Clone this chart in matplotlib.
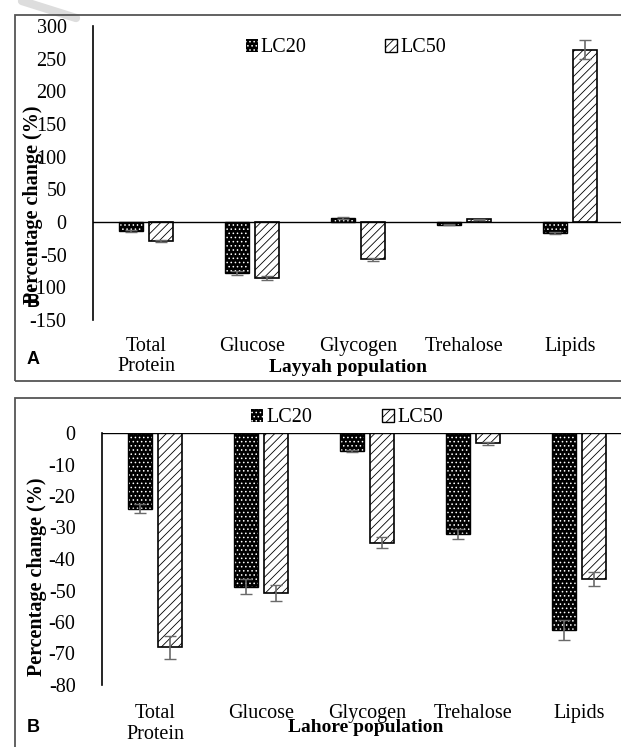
import numpy as np
import matplotlib
matplotlib.use('Agg')
import matplotlib.pyplot as plt
from matplotlib.patches import Rectangle, Patch
from matplotlib.lines import Line2D

# DATA
categories = ['Total\nProtein', 'Glucose', 'Glycogen', 'Trehalose', 'Lipids']
series = ['LC20', 'LC50']

layyah_lc20 = [-14, -78, 6, -4, -17]
layyah_lc50 = [-29, -86, -57, 4, 264]
layyah_err20 = [1.5, 3, 1, 0.8, 2]
layyah_err50 = [1.5, 3, 2, 0.8, 14]

lahore_lc20 = [-24, -48.8, -5.7, -32, -62.5]
lahore_lc50 = [-68, -50.9, -34.8, -3.3, -46.3]
lahore_err20 = [1.5, 2.4, 0.3, 1.6, 3.2]
lahore_err50 = [3.6, 2.5, 1.7, 0.4, 2.3]

# STYLE
plt.rcParams['font.family'] = ['Liberation Serif', 'DejaVu Serif']
plt.rcParams['axes.unicode_minus'] = False
plt.rcParams['hatch.linewidth'] = 0.6
W, H = 621, 747
fig = plt.figure(figsize=(W / 100, H / 100), dpi=100)

def fx(px):
    return px / W

def fy(py):
    return 1 - py / H

width = 0.23
off = 0.14
errc = '#6a6a6a'
FS = 14.5

def draw_panel(ax, v20, v50, e20, e50, ylim, yticks, pad):
    x = np.arange(len(categories))
    # LC20: black with white dots
    ax.bar(x - off, v20, width, color='black', edgecolor='white', hatch='....', linewidth=0, zorder=2)
    ax.bar(x - off, v20, width, fill=False, edgecolor='black', linewidth=1, zorder=3)
    # LC50: white with diagonal brick
    ax.bar(x + off, v50, width, color='white', edgecolor='black', hatch='////', linewidth=1.2, zorder=2)
    ax.errorbar(x - off, v20, yerr=e20, fmt='none', ecolor=errc, elinewidth=1.2, capsize=4, zorder=4)
    ax.errorbar(x + off, v50, yerr=e50, fmt='none', ecolor=errc, elinewidth=1.2, capsize=4, zorder=4)
    ax.axhline(0, color='black', linewidth=1, zorder=5)
    ax.set_xlim(-0.5, len(categories) - 0.5)
    ax.set_ylim(*ylim)
    ax.set_yticks(yticks)
    ax.tick_params(axis='y', length=0, labelsize=FS, pad=19)
    ax.set_xticks(x)
    ax.set_xticklabels(categories, fontsize=FS, linespacing=1.1, va='top')
    ax.tick_params(axis='x', length=0, pad=pad)
    for s in ['top', 'right', 'bottom']:
        ax.spines[s].set_visible(False)
    ax.spines['left'].set_linewidth(1.2)

def legend_at(cx, cy, cs):
    h20 = Patch(facecolor='black', edgecolor='white', hatch='....', linewidth=0)
    h50 = Patch(facecolor='white', edgecolor='black', hatch='////', linewidth=1)
    fig.legend([h20, h50], series, loc='center', bbox_to_anchor=(cx, cy), ncol=2,
               frameon=False, fontsize=FS, handlelength=0.6, handleheight=0.6,
               handletextpad=0.15, columnspacing=cs)

# PANEL A
axA = fig.add_axes([fx(93), fy(320), fx(530), fy(26) - fy(320)])
draw_panel(axA, layyah_lc20, layyah_lc50, layyah_err20, layyah_err50,
           (-150, 300), np.arange(-150, 301, 50), 12)
legend_at(fx(346), fy(48), 3.9)

# PANEL B
axB = fig.add_axes([fx(102), fy(685), fx(530), fy(433) - fy(685)])
draw_panel(axB, lahore_lc20, lahore_lc50, lahore_err20, lahore_err50,
           (-80, 0), np.arange(-80, 1, 10), 14)
legend_at(fx(347), fy(418), 3.5)

# LABELS
fig.text(fx(33), fy(205), 'Percentage change (%)', rotation=90, ha='center', va='center',
         fontsize=FS, fontweight='bold')
fig.text(fx(37), fy(577), 'Percentage change (%)', rotation=90, ha='center', va='center',
         fontsize=FS, fontweight='bold')
fig.text(fx(348), fy(368), 'Layyah population', ha='center', va='center', fontsize=14, fontweight='bold')
fig.text(fx(366), fy(728), 'Lahore population', ha='center', va='center', fontsize=14, fontweight='bold')

fig.text(fx(33), fy(360), 'A', ha='center', va='center', fontsize=13, fontweight='bold', family='Liberation Sans')
fig.text(fx(33), fy(303), 'B', ha='center', va='center', fontsize=13, fontweight='bold', family='Liberation Sans')
fig.text(fx(33), fy(727), 'B', ha='center', va='center', fontsize=13, fontweight='bold', family='Liberation Sans')

# PANEL BOXES
fig.add_artist(Rectangle((fx(15), fy(381)), 1.0, fy(15) - fy(381), transform=fig.transFigure,
                         fill=False, edgecolor='#555555', linewidth=1.3))
fig.add_artist(Rectangle((fx(15), -0.05), 1.0, fy(398) + 0.05, transform=fig.transFigure,
                         fill=False, edgecolor='#555555', linewidth=1.3))

# faint watermark stroke
fig.add_artist(Line2D([fx(22), fx(76)], [fy(1), fy(18)], transform=fig.transFigure,
                      color='#dddddd', linewidth=6, solid_capstyle='round', zorder=0))

fig.savefig('out.png', dpi=100)
